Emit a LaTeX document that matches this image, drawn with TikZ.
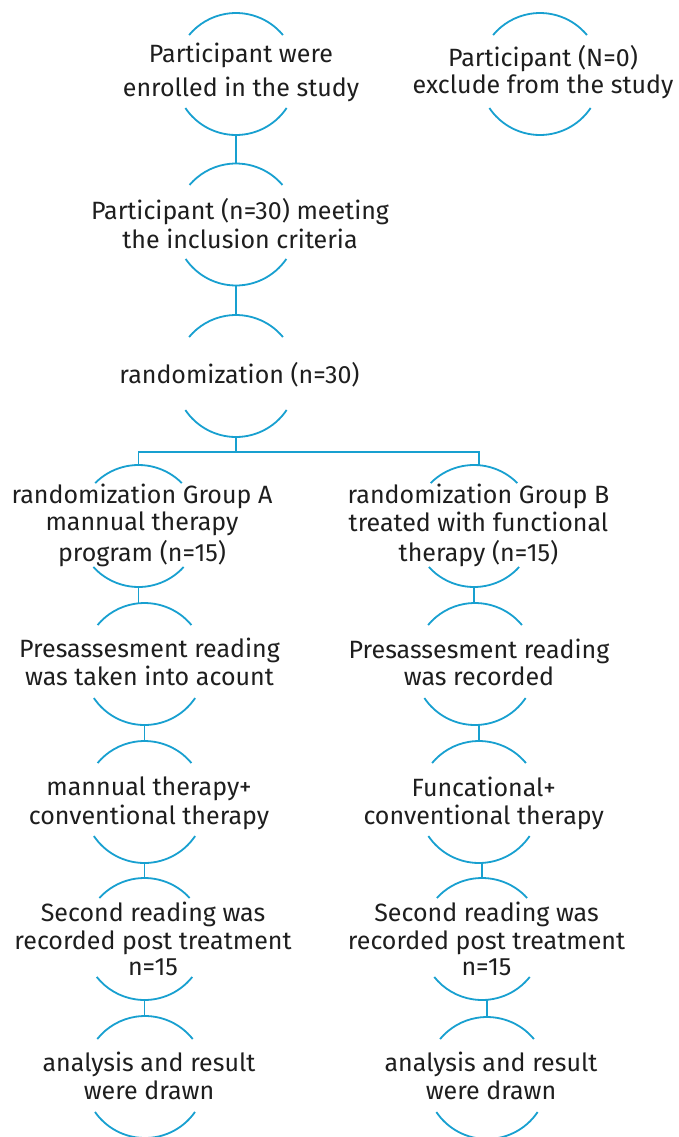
\documentclass[tikz,border=0pt]{standalone}
\usepackage{fontspec}
\setmainfont{Fira Sans}
\definecolor{flow}{HTML}{18A0D0}
\definecolor{ink}{HTML}{1E1E1E}
\newcommand\capsarcs[3]{%
  \draw[flowline] (#1.center) ++(#2:61pt) arc[start angle=#2, end angle=180-#2, radius=61pt];
  \draw[flowline] (#1.center) ++(-#3:61pt) arc[start angle=-#3, end angle=-180+#3, radius=61pt];}
\tikzset{
  flowline/.style={draw=flow, line width=1.8pt},
  ring/.style={circle, minimum size=122pt, inner sep=0pt},
  txtnode/.style={inner sep=0pt, align=center, text=ink, font=\fontsize{25}{#1}\selectfont},
}
\begin{document}
\begin{tikzpicture}[x=1pt, y=-1pt]
\useasboundingbox[fill=white] (0,0) rectangle (678,1137);
% circles
\node[ring] (n1) at (236,74) {};
\node[ring] (n2) at (236,224.5) {};
\node[ring] (n3) at (236,376) {};
\node[ring] (nx) at (540,74) {};
\node[ring] (nA) at (138.5,526) {};
\node[ring] (nB) at (474,526) {};
\node[ring] (nPA) at (144.5,664) {};
\node[ring] (nPB) at (475,664) {};
\node[ring] (nTA) at (144.5,802) {};
\node[ring] (nTB) at (479,802) {};
\node[ring] (nSA) at (144.5,939) {};
\node[ring] (nSB) at (482,939) {};
\node[ring] (nAA) at (145,1077) {};
\node[ring] (nAB) at (487,1078) {};
\capsarcs{n1}{39.7}{33.9}
\capsarcs{n2}{40.4}{34.4}
\capsarcs{n3}{39.7}{33.9}
\capsarcs{nx}{39.7}{33.9}
\capsarcs{nA}{44.8}{42.2}
\capsarcs{nB}{44.8}{42.2}
\capsarcs{nPA}{39.7}{33.9}
\capsarcs{nPB}{39.7}{33.9}
\capsarcs{nTA}{39.7}{33.9}
\capsarcs{nTB}{39.7}{33.9}
\capsarcs{nSA}{42.2}{38.5}
\capsarcs{nSB}{42.2}{38.5}
\capsarcs{nAA}{38.5}{35}
\capsarcs{nAB}{39.7}{33.9}
% texts
\node[txtnode=33.7] (t1) at (241,72.5) {\strut Participant were\\\strut enrolled in the study};
\node[txtnode=27.7] (t2) at (240,227.3) {\strut Participant (n=30) meeting\\\strut the inclusion criteria};
\node[txtnode=27] (t3) at (239.5,377.3) {\strut randomization (n=30)};
\node[txtnode=26] (tx) at (543,73.5) {\strut Participant (N=0)\\\strut exclude from the study};
\node[txtnode=27.2] (tA) at (142,526.8) {\strut randomization Group A\\\strut mannual therapy\\\strut program (n=15)};
\node[txtnode=27.2] (tB) at (478.5,526.8) {\strut randomization Group B\\\strut treated with functional\\\strut therapy (n=15)};
\node[txtnode=25.5] (tPA) at (149.5,665.8) {\strut Presassesment reading\\\strut was taken into acount};
\node[txtnode=26] (tPB) at (479,666.1) {\strut Presassesment reading\\\strut was recorded};
\node[txtnode=26] (tTA) at (149,804.5) {\strut mannual therapy+\\\strut conventional therapy};
\node[txtnode=26] (tTB) at (483.7,804.5) {\strut Funcational+\\\strut conventional therapy};
\node[txtnode=26.2] (tSA) at (153,942.6) {\strut Second reading was\\\strut recorded post treatment\\\strut n=15};
\node[txtnode=26.2] (tSB) at (486.5,942.6) {\strut Second reading was\\\strut recorded post treatment\\\strut n=15};
\node[txtnode=26.6] (tAA) at (149,1079.7) {\strut analysis and result\\\strut were drawn};
\node[txtnode=26] (tAB) at (491,1079.5) {\strut analysis and result\\\strut were drawn};
% connectors
\draw[flowline] (n1.south) -- (n2.north);
\draw[flowline] (n2.south) -- (n3.north);
\coordinate (split) at (236,452);
\draw[flowline] (n3.south) -- (split);
\draw[flowline] (split) -| (nA.north);
\draw[flowline] (split) -| ([xshift=5pt]nB.north);
\draw[flowline] (nA.south) -- (nA.south |- nPA.north);
\draw[flowline] (nPA.south) -- (nPA.south |- nTA.north);
\draw[flowline] (nTA.south) -- (nTA.south |- nSA.north);
\draw[flowline] (nSA.south) -- (nSA.south |- nAA.north);
\draw[flowline] (nB.south) -- (nB.south |- nPB.north);
\draw[flowline] (nPB.south -| nTB.north) -- (nTB.north);
\draw[flowline] (nTB.south -| nSB.north) -- (nSB.north);
\draw[flowline] (nSB.south -| nAB.north) -- (nAB.north);
\end{tikzpicture}
\end{document}
